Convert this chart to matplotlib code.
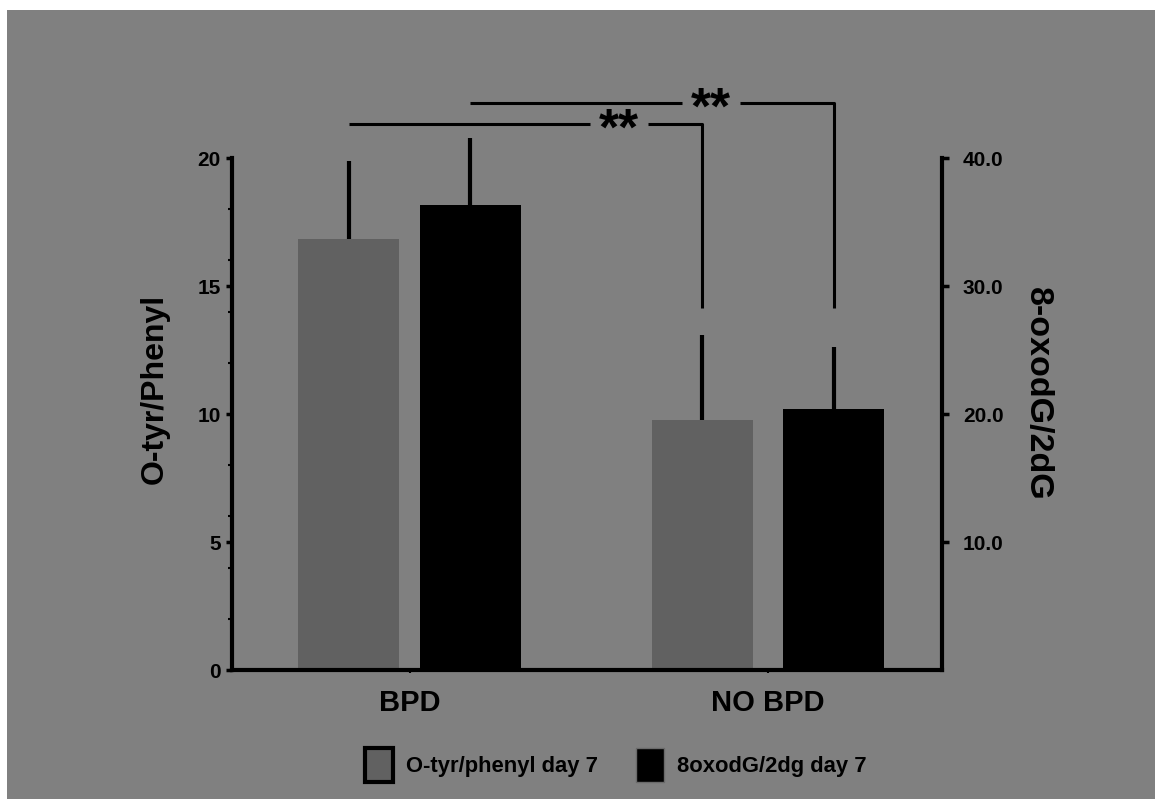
import numpy as np
import matplotlib
matplotlib.use('Agg')
import matplotlib.pyplot as plt
from matplotlib.patches import Patch, Rectangle

plt.rcParams.update({'font.family': ['Liberation Sans', 'DejaVu Sans'],
                     'font.weight': 'bold', 'axes.labelweight': 'bold'})

# data
groups = ['BPD', 'NO BPD']
otyr_mean = [16.85, 9.75]     # left axis, O-tyr/Phenyl
otyr_err = [3.05, 3.35]
oxo_mean = [36.3, 20.4]       # right axis, 8-oxodG/2dG
oxo_err = [5.3, 4.85]
series_names = ['O-tyr/phenyl day 7', '8oxodG/2dg day 7']
sig_labels = ['**', '**']

BG = '#808080'
GRAY = '#616161'

fig = plt.figure(figsize=(11.55, 7.99), dpi=100, facecolor='white')
fig.patches.append(Rectangle((7 / 1155, 0), 1, 1 - 10 / 799, transform=fig.transFigure,
                             facecolor=BG, edgecolor='none', zorder=-10))

ax = fig.add_axes([232 / 1155, 1 - 670 / 799, 710 / 1155, 512 / 799])
ax.set_facecolor('none')
ax2 = ax.twinx()
ax2.set_facecolor('none')

x = np.arange(len(groups))
w = 0.282
half = np.array([0.17, 0.183])   # half distance between the two bars of a group
xg = x - half
xb = x + half
ekw = dict(fmt='none', elinewidth=3, capsize=0, ecolor='black', clip_on=False, zorder=1)
ax.bar(xg, otyr_mean, w, color=GRAY, zorder=2)
eb1 = ax.errorbar(xg, otyr_mean, yerr=[np.zeros(len(x)), otyr_err], **ekw)
ax2.bar(xb, oxo_mean, w, color='black', zorder=2)
eb2 = ax2.errorbar(xb, oxo_mean, yerr=[np.zeros(len(x)), oxo_err], **ekw)
for eb in (eb1, eb2):
    for c in eb.lines[2]:
        c.set_clip_on(False)

ax.set_xlim(-0.495, 1.485)
ax.set_ylim(0, 20)
ax2.set_ylim(0, 40)

for s in ['top', 'right']:
    ax.spines[s].set_visible(False)
for s in ['top', 'left', 'bottom']:
    ax2.spines[s].set_visible(False)
for sp in (ax.spines['left'], ax.spines['bottom'], ax2.spines['right']):
    sp.set_linewidth(3)

ax.set_yticks([0, 5, 10, 15, 20])
ax.set_yticks([2, 4, 6, 8, 12, 14, 16, 18], minor=True)
ax.tick_params(axis='y', which='major', length=4, width=2.5, pad=4, labelsize=15)
ax.tick_params(axis='y', which='minor', length=3, width=1.5)
ax.set_xticks(x)
ax.set_xticklabels(groups, fontsize=21)
ax.tick_params(axis='x', length=2, width=1.5, pad=12)

ax2.set_yticks([10, 20, 30, 40])
ax2.set_yticklabels(['10.0', '20.0', '30.0', '40.0'])
ax2.tick_params(axis='y', length=5, width=2.5, pad=10, labelsize=15)

ax.set_ylabel('O-tyr/Phenyl', fontsize=23)
ax.yaxis.set_label_coords(-0.087, 0.549)
ax2.set_ylabel('8-oxodG/2dG', fontsize=24.5, rotation=270, va='center')
ax2.yaxis.set_label_coords(1.135, 0.54)

# significance brackets (left-axis units)
brackets = [(xg[0], xg[1], 21.33, 0.584),
            (xb[0], xb[1], 22.15, 0.841)]
drop_to = 14.14
gap = 0.08
for (x0, x1, yb, xt), lab in zip(brackets, sig_labels):
    kw = dict(color='black', lw=2.2, clip_on=False, solid_capstyle='butt')
    ax.plot([x0, xt - gap], [yb, yb], **kw)
    ax.plot([xt + gap, x1, x1], [yb, yb, drop_to], **kw)
    ax.annotate(lab, xy=(xt, yb), xytext=(0, -15), textcoords='offset points',
                ha='center', va='baseline', fontsize=37, fontweight='bold',
                annotation_clip=False)

handles = [Patch(facecolor=GRAY, edgecolor='black', linewidth=3),
           Patch(facecolor='black', edgecolor='#6a6a6a', linewidth=1)]
fig.legend(handles, series_names, loc='center left', bbox_to_anchor=(345 / 1155, 1 - 765 / 799),
           ncol=2, frameon=False, fontsize=15.8, handlelength=1.3, handleheight=1.95,
           handletextpad=0.6, columnspacing=1.7)

fig.savefig('out.png', dpi=100, facecolor='white')
